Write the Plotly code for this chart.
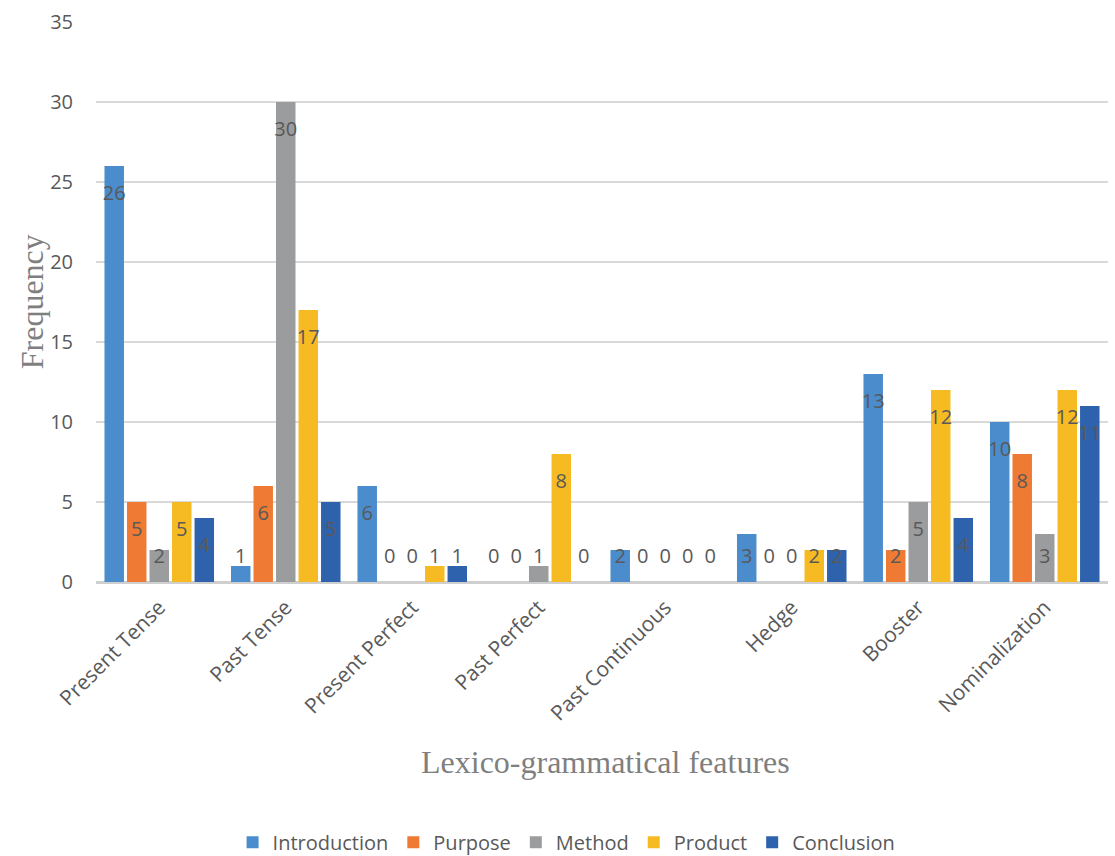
import plotly.graph_objects as go

categories = ["Present Tense", "Past Tense", "Present Perfect", "Past Perfect",
              "Past Continuous", "Hedge", "Booster", "Nominalization"]
series_names = ["Introduction", "Purpose", "Method", "Product", "Conclusion"]
introduction = [26, 1, 6, 0, 2, 3, 13, 10]
purpose = [5, 6, 0, 0, 0, 0, 2, 8]
method = [2, 30, 0, 1, 0, 0, 5, 3]
product = [5, 17, 1, 8, 0, 2, 12, 12]
conclusion = [4, 5, 1, 0, 0, 2, 4, 11]
y_ticks = [0, 5, 10, 15, 20, 25, 30, 35]

series_values = [introduction, purpose, method, product, conclusion]
colors = ["#4a8ccc", "#ee7a33", "#9b9c9d", "#f6bb22", "#2f62ac"]

slot = 0.178
bar_w = 0.154
label_drop = 1.8
label_min = 1.5
text_col = "#595959"
font_main = "Open Sans, Lato, sans-serif"
font_serif = "Liberation Serif, Times New Roman, serif"

fig = go.Figure()
n = len(series_names)
for j, (name, vals, col) in enumerate(zip(series_names, series_values, colors)):
    xs = [i + (j - (n - 1) / 2) * slot for i in range(len(categories))]
    fig.add_trace(go.Bar(
        x=xs, y=vals, width=bar_w, name=name,
        marker=dict(color=col, line=dict(width=0)),
        hovertemplate=name + ": %{y}<extra></extra>",
    ))
for j, (name, vals) in enumerate(zip(series_names, series_values)):
    xs = [i + (j - (n - 1) / 2) * slot for i in range(len(categories))]
    ys = [max(v - label_drop, label_min) for v in vals]
    fig.add_trace(go.Scatter(
        x=xs, y=ys, mode="text", text=[str(v) for v in vals],
        textposition="middle center",
        textfont=dict(family=font_main, size=20, color=text_col),
        showlegend=False, hoverinfo="skip", cliponaxis=False,
    ))

fig.update_layout(
    width=1115, height=856,
    margin=dict(l=96, r=7, t=22, b=274),
    plot_bgcolor="white", paper_bgcolor="white",
    barmode="overlay",
    font=dict(family=font_main, color=text_col, size=20),
    showlegend=True,
    legend=dict(orientation="h", x=0.465, xanchor="center",
                yref="container", y=0.016, yanchor="middle",
                font=dict(family=font_main, size=20, color=text_col),
                traceorder="normal"),
    xaxis=dict(
        range=[-0.5, len(categories) - 0.5],
        tickmode="array", tickvals=list(range(len(categories))), ticktext=categories,
        tickangle=-45, showgrid=False, zeroline=False,
        showline=False, ticks="", automargin=False,
        tickfont=dict(family=font_main, size=21, color=text_col),
        ticklabelstandoff=8,
    ),
    yaxis=dict(
        range=[0, 35], tickmode="array", tickvals=y_ticks,
        showgrid=True, gridcolor="#d9d9d9", gridwidth=2,
        zeroline=True, zerolinecolor="#cfcfcf", zerolinewidth=3,
        showline=False, ticks="", automargin=False,
        tickfont=dict(family=font_main, size=20, color=text_col),
        ticklabelstandoff=22,
    ),
    annotations=[
        dict(text="Frequency", xref="paper", yref="paper", x=-0.063, y=0.5,
             xanchor="center", yanchor="middle", textangle=-90, showarrow=False,
             font=dict(family=font_serif, size=32, color="#7f7f7f")),
        dict(text="Lexico-grammatical features", xref="paper", yref="paper", x=0.503, y=-0.321,
             xanchor="center", yanchor="middle", showarrow=False,
             font=dict(family=font_serif, size=32, color="#7f7f7f")),
    ],
)

fig.write_html("out.html")
